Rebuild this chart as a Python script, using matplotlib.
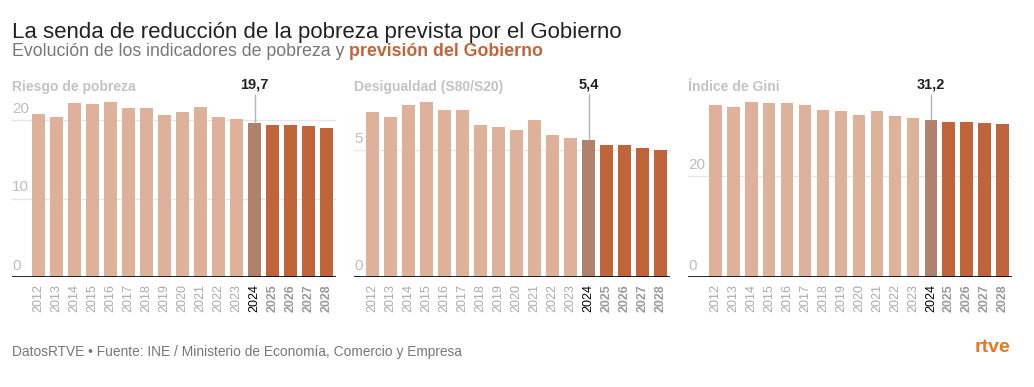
import matplotlib.pyplot as plt
import numpy as np

plt.rcParams['font.family'] = ['Liberation Sans', 'DejaVu Sans']

# Data
years = [str(y) for y in range(2012, 2029)]
riesgo = [20.8, 20.4, 22.2, 22.1, 22.3, 21.6, 21.5, 20.7, 21.0, 21.7, 20.4, 20.2, 19.7,
          19.4, 19.4, 19.3, 19.0]
desigualdad = [6.5, 6.3, 6.8, 6.9, 6.6, 6.6, 6.0, 5.9, 5.8, 6.2, 5.6, 5.5, 5.4,
               5.2, 5.2, 5.1, 5.0]
gini = [34.2, 33.7, 34.7, 34.6, 34.5, 34.1, 33.2, 33.0, 32.1, 33.0, 32.0, 31.5, 31.2,
        30.8, 30.8, 30.6, 30.4]

panels = [
    ("Riesgo de pobreza", riesgo, [0, 10, 20], "19,7", 23.2),
    ("Desigualdad (S80/S20)", desigualdad, [0, 5], "5,4", 7.18),
    ("Índice de Gini", gini, [0, 20], "31,2", 36.1),
]

c_hist = "#deb19b"
c_now = "#b0826e"
c_prev = "#c0653b"

W, H = 1034, 387
fig = plt.figure(figsize=(W / 100, H / 100), dpi=100)

# axes boxes in pixels: left, right ; xlim left
boxes = [(12, 336, -1.46), (354, 670, -1.02), (688, 1012, -1.52)]
y_base, y_top = 277.3, 95

x = np.arange(len(years))
colors = [c_hist] * 12 + [c_now] + [c_prev] * 4

axes = []
for (title, vals, ticks, label, ymax), (l, r, xl) in zip(panels, boxes):
    ax = fig.add_axes([l / W, 1 - y_base / H, (r - l) / W, (y_base - y_top) / H])
    axes.append(ax)
    ax.bar(x, vals, width=0.7, color=colors, zorder=2)
    ax.set_xlim(xl, 16.52)
    ax.set_ylim(0, ymax)
    for t in ticks:
        if t > 0:
            ax.axhline(t, color="#e6e6e6", lw=1, zorder=1)
        ax.text(0, t + ymax * 0.025, str(t), transform=ax.get_yaxis_transform(),
                ha="left", va="bottom", fontsize=11, color="#bdbdbd")
    ax.axhline(0, color="black", lw=1.2, zorder=3)
    for s in ax.spines.values():
        s.set_visible(False)
    ax.set_yticks([])
    ax.set_xticks(x)
    ax.set_xticklabels(years, rotation=90, fontsize=9)
    ax.tick_params(axis="x", length=0, pad=5)
    for i, tl in enumerate(ax.get_xticklabels()):
        if i < 12:
            tl.set_color("#aaaaaa")
        elif i == 12:
            tl.set_color("black")
        else:
            tl.set_color("#999999")
            tl.set_fontweight("bold")

    # annotation on 2024
    ax.vlines(12, vals[12], ymax * 1.005, color="#b5b5b5", lw=1, clip_on=False, zorder=3)
    ax.text(12, 1.055, label, transform=ax.get_xaxis_transform(), ha="center",
            va="center", fontsize=10.5, fontweight="bold", color="#222222")

    fig.text(l / W, 1 - 87 / H, title, ha="left", va="center", fontsize=10,
             fontweight="bold", color="#c3c3c3")

fig.text(12 / W, 1 - 32.5 / H, "La senda de reducción de la pobreza prevista por el Gobierno",
         ha="left", va="center", fontsize=16, color="#222222")
t1 = fig.text(12 / W, 1 - 52 / H, "Evolución de los indicadores de pobreza y ",
              ha="left", va="center", fontsize=12.8, color="#777777")
axes[0].annotate("previsión del Gobierno", xy=(1, 0), xycoords=t1, ha="left", va="bottom",
                 fontsize=12.8, fontweight="bold", color=c_prev, annotation_clip=False)

fig.text(12 / W, 1 - 352 / H,
         "DatosRTVE • Fuente: INE / Ministerio de Economía, Comercio y Empresa",
         ha="left", va="center", fontsize=9.9, color="#777777")
fig.text(1010 / W, 1 - 348 / H, "rtve", ha="right", va="center", fontsize=14,
         fontweight="bold", color="#e8781e")

fig.savefig("out.png", dpi=100)
